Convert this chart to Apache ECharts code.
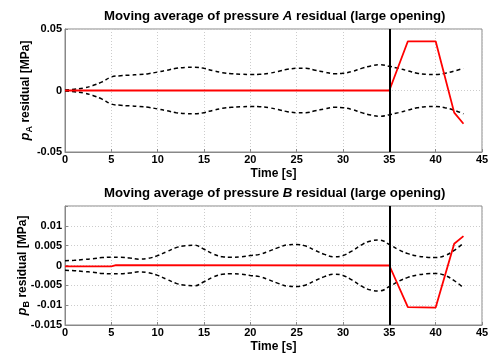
<!DOCTYPE html>
<html><head><meta charset="utf-8">
<script src="https://cdn.jsdelivr.net/npm/echarts@6/dist/echarts.min.js"></script>
<style>html,body{margin:0;padding:0;background:#fff}#c{width:496px;height:354px}</style>
</head><body><div id="c"></div>
<script>
const times = [0,1,2,3,4,5,6,7,8,9,10,11,12,13,14,15,16,17,18,19,20,21,22,23,24,25,26,27,28,29,30,31,32,33,34,35,36,37,38,39,40,41,42,43];
const upperA = [0.0005,0.001,0.002,0.004,0.007,0.011,0.012,0.0125,0.013,0.0137,0.015,0.0165,0.018,0.0188,0.019,0.018,0.016,0.0145,0.0137,0.0132,0.013,0.0132,0.014,0.0155,0.0172,0.018,0.018,0.0165,0.015,0.0137,0.014,0.0155,0.018,0.020,0.021,0.0197,0.018,0.016,0.014,0.0132,0.013,0.014,0.0158,0.018];
const lowerA = [-0.0005,-0.001,-0.002,-0.004,-0.007,-0.011,-0.012,-0.0125,-0.013,-0.0137,-0.015,-0.0165,-0.018,-0.0188,-0.019,-0.018,-0.016,-0.0145,-0.0137,-0.0132,-0.013,-0.0132,-0.014,-0.0155,-0.0172,-0.018,-0.018,-0.0165,-0.015,-0.0137,-0.014,-0.0155,-0.018,-0.020,-0.021,-0.0197,-0.018,-0.016,-0.014,-0.0132,-0.013,-0.014,-0.016,-0.019];
const redATimes = [0,35,37,40,42,43];
const redAValues = [0,0,0.04,0.04,-0.018,-0.027];
const upperB = [0.0012,0.0013,0.0015,0.0017,0.002,0.0021,0.0021,0.0019,0.0016,0.0018,0.0025,0.0035,0.0045,0.005,0.0051,0.0041,0.0029,0.0022,0.0021,0.0022,0.0025,0.0028,0.0036,0.0045,0.0052,0.0053,0.0049,0.0038,0.0028,0.0022,0.0025,0.0037,0.0052,0.0062,0.0064,0.0053,0.004,0.003,0.0024,0.0021,0.002,0.0025,0.0038,0.0056];
const lowerB = [-0.0012,-0.0013,-0.0015,-0.0017,-0.002,-0.0021,-0.0021,-0.0019,-0.0016,-0.0018,-0.0025,-0.0035,-0.0045,-0.005,-0.0051,-0.0041,-0.0029,-0.0022,-0.0021,-0.0022,-0.0025,-0.0028,-0.0036,-0.0045,-0.0052,-0.0053,-0.0049,-0.0038,-0.0028,-0.0022,-0.0025,-0.0037,-0.0052,-0.0062,-0.0064,-0.0053,-0.004,-0.003,-0.0024,-0.0021,-0.002,-0.0025,-0.0038,-0.0056];
const redBTimes = [0,5,5.5,35,37,40,42,43];
const redBValues = [-0.0002,-0.0002,0.0001,0,-0.0105,-0.0106,0.0055,0.0074];
const xTicks = [0,5,10,15,20,25,30,35,40,45];
const faultTime = 35;

const pairs = (xs, ys) => xs.map((x,i)=>[x, ys[i]]);
const FONT = 'Liberation Sans';
const grids = [{left:65,right:14,top:29,height:123},{left:65,right:14,top:206,height:123}];
function xAxis(gi){
  return {type:'value',gridIndex:gi,min:0,max:45,interval:5,
    name:'Time [s]',nameLocation:'middle',nameGap:16,nameMoveOverlap:false,
    nameTextStyle:{fontFamily:FONT,fontWeight:'bold',fontSize:12,color:'#000',padding:[0,0,0,0]},
    axisLine:{show:true,onZero:false,lineStyle:{color:'#888',width:1}},
    axisTick:{show:true,inside:true,length:3,lineStyle:{color:'#888'}},
    axisLabel:{fontFamily:FONT,fontWeight:'bold',fontSize:11,color:'#000',margin:2},
    splitLine:{show:true,lineStyle:{color:'#ccc',type:[1,2],width:1}}};
}
function yAxis(gi,min,max,interval,sub,gap,hideTop){
  return {type:'value',gridIndex:gi,min:min,max:max,interval:interval,
    name:'{p|p}{s|'+sub+'}{n| residual [MPa]}',nameLocation:'middle',nameRotate:90,nameGap:gap,nameMoveOverlap:false,
    nameTextStyle:{color:'#000',rich:{
      p:{fontFamily:FONT,fontWeight:'bold',fontStyle:'italic',fontSize:13,color:'#000'},
      s:{fontFamily:FONT,fontWeight:'bold',fontSize:9,color:'#000',padding:[8,0,0,0]},
      n:{fontFamily:FONT,fontWeight:'bold',fontSize:12,color:'#000'}}},
    axisLine:{show:true,onZero:false,lineStyle:{color:'#888',width:1}},
    axisTick:{show:true,inside:true,length:3,lineStyle:{color:'#888'}},
    axisLabel:{fontFamily:FONT,fontWeight:'bold',fontSize:11,color:'#000',margin:3,
      formatter:function(v){ if(hideTop && v>max-interval/2) return ''; return String(+v.toFixed(4)); }},
    splitLine:{show:true,lineStyle:{color:'#ccc',type:[1,2],width:1}}};
}
function titleOf(letter,top){
  return {text:'{b|Moving average of pressure }{i|'+letter+'}{b| residual (large opening)}',left:99,top:top,
    textStyle:{rich:{b:{fontFamily:FONT,fontWeight:'bold',fontSize:13.2,color:'#000'},
      i:{fontFamily:FONT,fontWeight:'bold',fontStyle:'italic',fontSize:13.2,color:'#000'}}}};
}
const dashed = {color:'#000',type:[4,3],width:1.5};
function bound(gi,data){return {type:'line',xAxisIndex:gi,yAxisIndex:gi,data:data,smooth:0.4,showSymbol:false,lineStyle:dashed,z:3,silent:true};}
function red(gi,data){return {type:'line',xAxisIndex:gi,yAxisIndex:gi,data:data,showSymbol:false,lineStyle:{color:'#ff0000',width:1.8},z:4,silent:true,
  markLine:{silent:true,symbol:'none',label:{show:false},lineStyle:{color:'#000',width:2,type:'solid'},data:[{xAxis:faultTime}]}};}

const chart = echarts.init(document.getElementById('c'),null,{renderer:'canvas'});
chart.setOption({
  animation:false,
  title:[titleOf('A',5),titleOf('B',182)],
  grid:grids.map(g=>Object.assign({show:true,borderColor:'#888',borderWidth:1,backgroundColor:'#fff'},g)),
  xAxis:[xAxis(0),xAxis(1)],
  yAxis:[yAxis(0,-0.05,0.05,0.05,'A',31,false),yAxis(1,-0.015,0.015,0.005,'B',34,true)],
  series:[
    bound(0,pairs(times,upperA)),bound(0,pairs(times,lowerA)),red(0,pairs(redATimes,redAValues)),
    bound(1,pairs(times,upperB)),bound(1,pairs(times,lowerB)),red(1,pairs(redBTimes,redBValues))
  ]
});
</script></body></html>
